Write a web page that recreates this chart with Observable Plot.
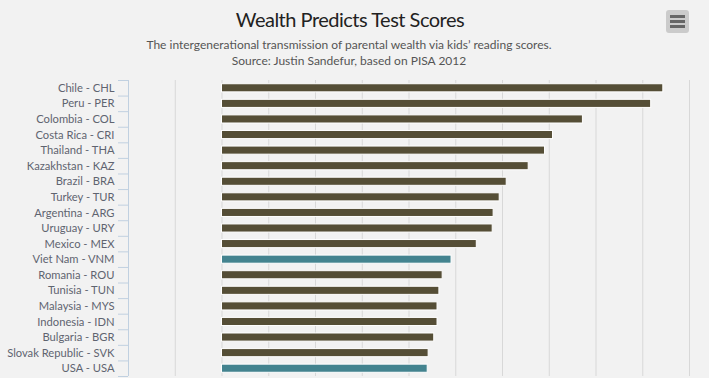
<!DOCTYPE html>
<html><head><meta charset="utf-8">
<script src="https://cdn.jsdelivr.net/npm/d3@7"></script>
<script src="https://cdn.jsdelivr.net/npm/@observablehq/plot@0.6"></script>
<style>
html,body{margin:0;padding:0;background:#f2f2f2;overflow:hidden;width:709px;height:378px}
#wrap{position:relative;width:709px;height:378px}
#title{position:absolute;left:0;top:6px;width:700px;text-align:center;font-family:Lato,sans-serif;font-size:20px;letter-spacing:-0.5px;color:#222;line-height:26px}
#sub{position:absolute;left:0;top:37px;width:698px;text-align:center;font-family:Lato,sans-serif;font-size:12px;color:#555;line-height:15.5px}
#menu{position:absolute;left:666px;top:10px;width:23px;height:23px;background:#cbcbcb;border-radius:3px}
#menu div{position:absolute;left:4px;width:15px;height:3px;background:#666}
svg{position:absolute;left:0;top:0}
</style></head>
<body><div id="wrap">
<div id="title">Wealth Predicts Test Scores</div>
<div id="sub">The intergenerational transmission of parental wealth via kids’ reading scores.<br>Source: Justin Sandefur, based on PISA 2012</div>
<div id="menu"><div style="top:5px"></div><div style="top:10px"></div><div style="top:15px"></div></div>
</div>
<script>
const countries = ["Chile - CHL","Peru - PER","Colombia - COL","Costa Rica - CRI","Thailand - THA","Kazakhstan - KAZ","Brazil - BRA","Turkey - TUR","Argentina - ARG","Uruguay - URY","Mexico - MEX","Viet Nam - VNM","Romania - ROU","Tunisia - TUN","Malaysia - MYS","Indonesia - IDN","Bulgaria - BGR","Slovak Republic - SVK","USA - USA"];
const values = [94.4, 91.8, 77.2, 70.8, 69.1, 65.6, 60.9, 59.4, 58.1, 57.9, 54.5, 49.1, 47.2, 46.5, 46.1, 46.1, 45.4, 44.2, 44.0];
const highlighted = ["Viet Nam - VNM", "USA - USA"];
const xTicks = [-20,-10,0,10,20,30,40,50,60,70,80,90,100];

const data = countries.map((c,i)=>({country:c, value:values[i], hl: highlighted.includes(c)}));
const W = 709, H = 378, mT = 80, mB = 2, mL = 128, mR = 20;
const step = (H - mT - mB) / countries.length;
const unitPx = (W - mL - mR) / (xTicks[xTicks.length-1] - xTicks[0]);
const tickLen = 10 / unitPx;

const chart = Plot.plot({
  width: W, height: H, marginTop: mT, marginBottom: mB, marginLeft: mL, marginRight: mR,
  style: {background: "transparent", fontFamily: "Lato, sans-serif", fontSize: "11px", color: "#606060"},
  x: {domain: [xTicks[0], xTicks[xTicks.length-1]], axis: null},
  y: {domain: countries, paddingInner: 0.48, paddingOuter: 0.24, round: false, axis: null},
  marks: [
    Plot.ruleX(xTicks.slice(1), {stroke: "#d8d8d8", strokeWidth: 1, strokeOpacity: 1}),
    Plot.ruleX([xTicks[0]], {stroke: "#c0d0e0", strokeWidth: 1, strokeOpacity: 1}),
    Plot.ruleY(countries, {y: d => d, x1: xTicks[0] - tickLen, x2: xTicks[0], dy: -step/2, stroke: "#c0d0e0", strokeOpacity: 1}),
    Plot.ruleY([countries[countries.length-1]], {y: d => d, x1: xTicks[0] - tickLen, x2: xTicks[0], dy: step/2, stroke: "#c0d0e0", strokeOpacity: 1}),
    Plot.axisY({tickSize: 0, tickPadding: 14, fontSize: 11.2, fill: "#5f6470", label: null}),
    Plot.barX(data, {x: "value", y: "country", fill: d => d.hl ? "#43838f" : "#554e36", stroke: "white", strokeWidth: 1})
  ]
});
document.getElementById("wrap").prepend(chart);
</script>
</body></html>
